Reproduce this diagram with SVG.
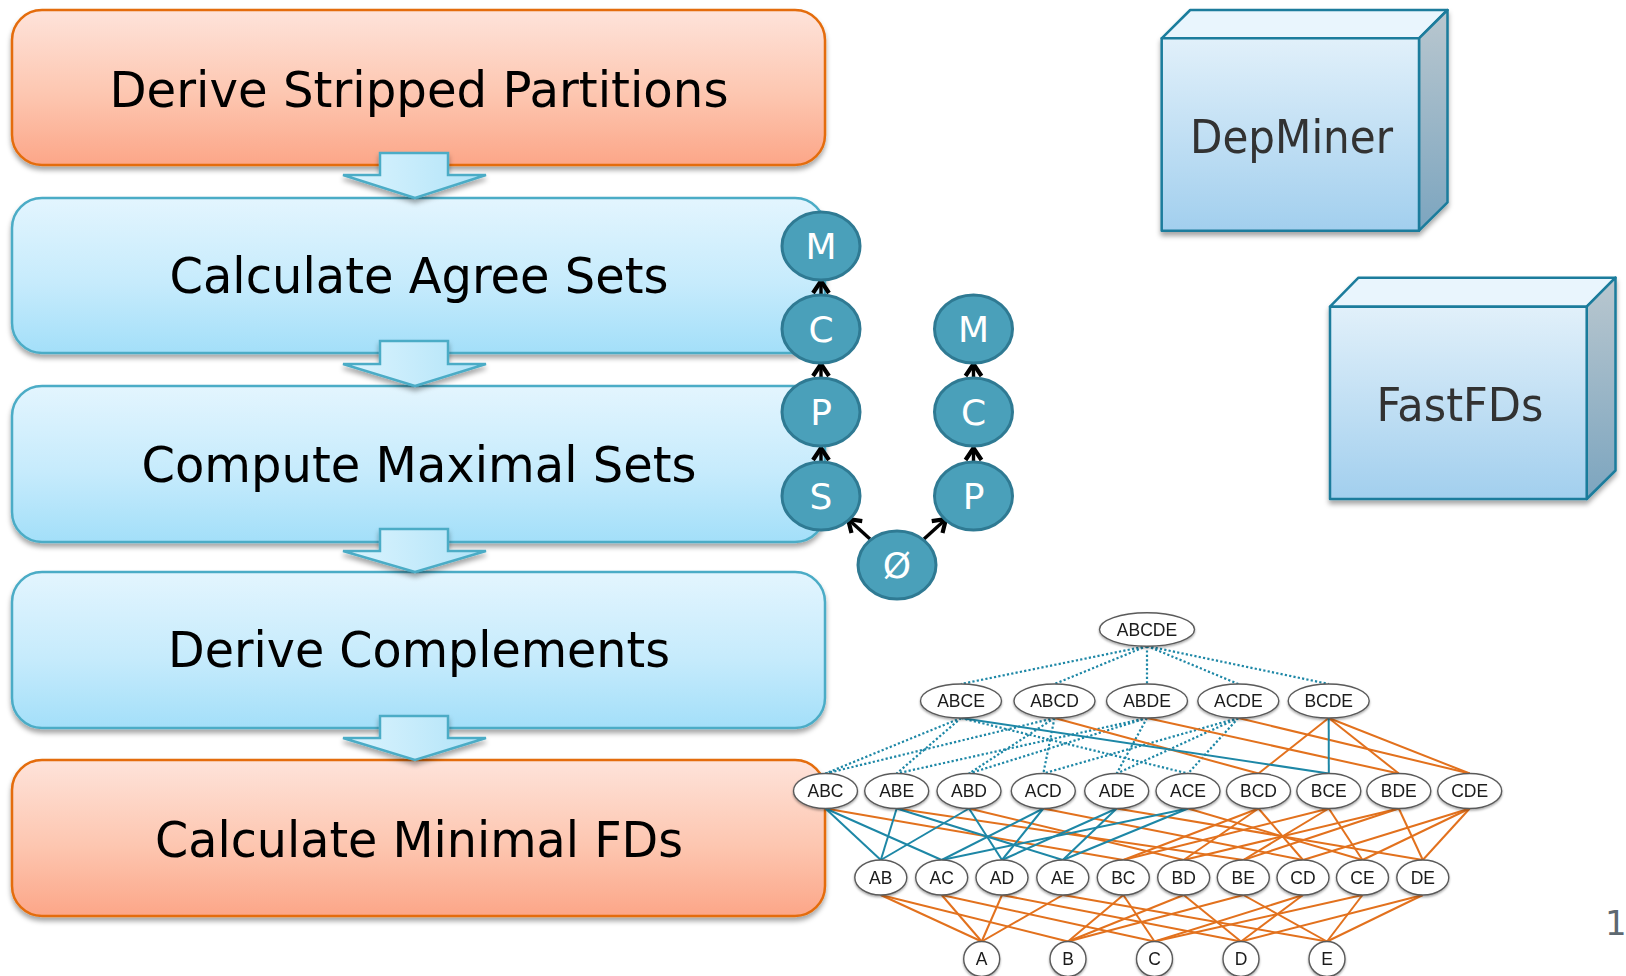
<svg xmlns="http://www.w3.org/2000/svg" width="1626" height="976" viewBox="0 0 1626 976">
  <defs>
    <linearGradient id="gOrange" x1="0" y1="0" x2="0" y2="1">
      <stop offset="0" stop-color="#fee3da"/>
      <stop offset="0.55" stop-color="#fdc6b0"/>
      <stop offset="1" stop-color="#fca688"/>
    </linearGradient>
    <linearGradient id="gBlue" x1="0" y1="0" x2="0" y2="1">
      <stop offset="0" stop-color="#e3f5fe"/>
      <stop offset="0.55" stop-color="#c6ebfc"/>
      <stop offset="1" stop-color="#a3dff9"/>
    </linearGradient>
    <linearGradient id="gArrow" x1="0" y1="0" x2="1" y2="0">
      <stop offset="0" stop-color="#dcf4fe"/>
      <stop offset="1" stop-color="#b0e3f8"/>
    </linearGradient>
    <linearGradient id="gCubeFront" x1="0" y1="0" x2="0" y2="1">
      <stop offset="0" stop-color="#e1f0fa"/>
      <stop offset="1" stop-color="#a2cfee"/>
    </linearGradient>
    <linearGradient id="gCubeSide" x1="0" y1="0" x2="0" y2="1">
      <stop offset="0" stop-color="#b9c7cf"/>
      <stop offset="1" stop-color="#7ca5bf"/>
    </linearGradient>
    <filter id="shadow" x="-5%" y="-10%" width="110%" height="125%">
      <feDropShadow dx="0" dy="4" stdDeviation="2.5" flood-color="#000" flood-opacity="0.35"/>
    </filter>
    <filter id="nshadow" x="-20%" y="-30%" width="140%" height="170%">
      <feDropShadow dx="0" dy="1.5" stdDeviation="1.2" flood-color="#000" flood-opacity="0.35"/>
    </filter>
    <marker id="vee" viewBox="-16 -11 18 22" refX="0" refY="0" markerWidth="18" markerHeight="22" markerUnits="userSpaceOnUse" orient="auto">
      <path d="M-12,-8 L0,0 L-12,8" fill="none" stroke="#000" stroke-width="4.2" stroke-linejoin="miter"/>
    </marker>
  </defs>
  <style>
    .step-o { fill: url(#gOrange); stroke: #e46c0a; stroke-width: 2.5; }
    .step-b { fill: url(#gBlue); stroke: #4bacc6; stroke-width: 2.5; }
    .step-t { font-family: "DejaVu Sans", Verdana, sans-serif; font-size: 49.5px; fill: #000; text-anchor: middle; }
    .flow { fill: url(#gArrow); stroke: #4bacc6; stroke-width: 2.5; stroke-linejoin: miter; }
    .op { fill: #4aa0ba; stroke: #2f7a93; stroke-width: 3; }
    .op-t { font-family: "DejaVu Sans", Verdana, sans-serif; font-size: 36px; fill: #fff; text-anchor: middle; }
    .dep { stroke: #000; stroke-width: 3.4; fill: none; marker-end: url(#vee); }
    .cube { stroke: #1a7c9c; stroke-width: 2.5; stroke-linejoin: round; }
    .cube-t { font-family: "DejaVu Sans", Verdana, sans-serif; font-size: 45.5px; fill: #333; text-anchor: middle; }
    .ln { fill: #fff; stroke: #5a5a5a; stroke-width: 1.4; }
    .ln-t { font-family: "Liberation Sans", Arial, sans-serif; font-size: 17.5px; fill: #1a1a1a; text-anchor: middle; }
    .e-dot { stroke: #1d87a6; stroke-width: 2.2; stroke-dasharray: 2.2 2.2; fill: none; }
    .e-blue { stroke: #1d87a6; stroke-width: 2; fill: none; }
    .e-orange { stroke: #e2711d; stroke-width: 2; fill: none; }
  </style>

  <rect width="1626" height="976" fill="#fff"/>

  <!-- Pipeline steps -->
  <g id="step-stripped-partitions" filter="url(#shadow)">
    <rect class="step-o" x="12" y="10" width="813" height="155" rx="30"/>
    <text class="step-t" x="419" y="107" textLength="619" lengthAdjust="spacingAndGlyphs">Derive Stripped Partitions</text>
  </g>
  <g id="step-agree-sets" filter="url(#shadow)">
    <rect class="step-b" x="12" y="198" width="813" height="155" rx="30"/>
    <text class="step-t" x="419" y="293" textLength="499" lengthAdjust="spacingAndGlyphs">Calculate Agree Sets</text>
  </g>
  <g id="step-maximal-sets" filter="url(#shadow)">
    <rect class="step-b" x="12" y="386" width="813" height="156" rx="30"/>
    <text class="step-t" x="419" y="482" textLength="555" lengthAdjust="spacingAndGlyphs">Compute Maximal Sets</text>
  </g>
  <g id="step-complements" filter="url(#shadow)">
    <rect class="step-b" x="12" y="572" width="813" height="156" rx="30"/>
    <text class="step-t" x="419" y="667" textLength="502" lengthAdjust="spacingAndGlyphs">Derive Complements</text>
  </g>
  <g id="step-minimal-fds" filter="url(#shadow)">
    <rect class="step-o" x="12" y="760" width="813" height="156" rx="30"/>
    <text class="step-t" x="419" y="857" textLength="528" lengthAdjust="spacingAndGlyphs">Calculate Minimal FDs</text>
  </g>

  <!-- Block arrows between steps -->
  <g id="flow-arrows" filter="url(#shadow)">
    <path class="flow" d="M380,153 L448,153 L448,175 L486,175 L415,198 L343,175 L380,175 Z"/>
    <path class="flow" d="M380,341 L448,341 L448,364 L486,364 L415,386 L343,364 L380,364 Z"/>
    <path class="flow" d="M380,529 L448,529 L448,551 L486,551 L415,572 L343,551 L380,551 Z"/>
    <path class="flow" d="M380,716 L448,716 L448,738 L486,738 L415,760 L343,738 L380,738 Z"/>
  </g>

  <!-- Operator chains: connectors -->
  <g id="chain-connectors">
    <line class="dep" x1="821" y1="462" x2="821" y2="448"/>
    <line class="dep" x1="821" y1="378" x2="821" y2="364"/>
    <line class="dep" x1="821" y1="295" x2="821" y2="281"/>
    <line class="dep" x1="973.5" y1="462" x2="973.5" y2="448"/>
    <line class="dep" x1="973.5" y1="378" x2="973.5" y2="364"/>
    <line class="dep" x1="870" y1="539" x2="848" y2="519"/>
    <line class="dep" x1="924" y1="539" x2="946" y2="519"/>
  </g>

  <!-- Operator chains: nodes -->
  <g id="op-left-M"><ellipse class="op" cx="821" cy="246" rx="39" ry="34"/><text class="op-t" x="821" y="259">M</text></g>
  <g id="op-left-C"><ellipse class="op" cx="821" cy="329" rx="39" ry="34"/><text class="op-t" x="821" y="342">C</text></g>
  <g id="op-left-P"><ellipse class="op" cx="821" cy="412" rx="39" ry="34"/><text class="op-t" x="821" y="425">P</text></g>
  <g id="op-left-S"><ellipse class="op" cx="821" cy="496" rx="39" ry="34"/><text class="op-t" x="821" y="509">S</text></g>
  <g id="op-right-M"><ellipse class="op" cx="973.5" cy="329" rx="39" ry="34"/><text class="op-t" x="973.5" y="342">M</text></g>
  <g id="op-right-C"><ellipse class="op" cx="973.5" cy="412" rx="39" ry="34"/><text class="op-t" x="973.5" y="425">C</text></g>
  <g id="op-right-P"><ellipse class="op" cx="973.5" cy="496" rx="39" ry="34"/><text class="op-t" x="973.5" y="509">P</text></g>
  <g id="op-empty"><ellipse class="op" cx="897" cy="565" rx="39" ry="34"/><text class="op-t" x="897" y="578">Ø</text></g>

  <!-- Algorithm cubes -->
  <g id="cube-depminer" filter="url(#shadow)">
    <polygon class="cube" fill="#e9f5fd" points="1161.7,38.3 1190.2,10 1447.5,10 1419,38.3"/>
    <polygon class="cube" fill="url(#gCubeSide)" points="1419,38.3 1447.5,10 1447.5,202.4 1419,230.7"/>
    <rect class="cube" fill="url(#gCubeFront)" x="1161.7" y="38.3" width="257.3" height="192.4"/>
    <text class="cube-t" x="1291.5" y="153.3" textLength="203" lengthAdjust="spacingAndGlyphs">DepMiner</text>
  </g>
  <g id="cube-fastfds" filter="url(#shadow)">
    <polygon class="cube" fill="#e9f5fd" points="1330,306.7 1358.5,277.7 1615.5,277.7 1586.7,306.7"/>
    <polygon class="cube" fill="url(#gCubeSide)" points="1586.7,306.7 1615.5,277.7 1615.5,470.5 1586.7,499"/>
    <rect class="cube" fill="url(#gCubeFront)" x="1330" y="306.7" width="256.7" height="192.3"/>
    <text class="cube-t" x="1460" y="420.7" font-size="44.5" textLength="167" lengthAdjust="spacingAndGlyphs">FastFDs</text>
  </g>

  <!-- Attribute lattice: edges -->
  <g id="lattice-edges">
    <!-- level 5 to level 4 -->
    <g class="e-dot">
      <line x1="1147" y1="646" x2="961" y2="684"/>
      <line x1="1147" y1="646" x2="1054.5" y2="684"/>
      <line x1="1147" y1="646" x2="1147" y2="684"/>
      <line x1="1147" y1="646" x2="1238.3" y2="684"/>
      <line x1="1147" y1="646" x2="1328.7" y2="684"/>
      <!-- level 4 to level 3, sets containing A -->
      <line x1="961" y1="718" x2="825.5" y2="773.5"/>
      <line x1="961" y1="718" x2="896.7" y2="773.5"/>
      <line x1="961" y1="718" x2="1188" y2="773.5"/>
      <line x1="1054.5" y1="718" x2="825.5" y2="773.5"/>
      <line x1="1054.5" y1="718" x2="969" y2="773.5"/>
      <line x1="1054.5" y1="718" x2="1043.3" y2="773.5"/>
      <line x1="1147" y1="718" x2="969" y2="773.5"/>
      <line x1="1147" y1="718" x2="896.7" y2="773.5"/>
      <line x1="1147" y1="718" x2="1116.7" y2="773.5"/>
      <line x1="1238.3" y1="718" x2="1043.3" y2="773.5"/>
      <line x1="1238.3" y1="718" x2="1188" y2="773.5"/>
      <line x1="1238.3" y1="718" x2="1116.7" y2="773.5"/>
    </g>
    <g class="e-orange">
      <line x1="1054.5" y1="718" x2="1258.5" y2="773.5"/>
      <line x1="1147" y1="718" x2="1398.8" y2="773.5"/>
      <line x1="1238.3" y1="718" x2="1469.7" y2="773.5"/>
      <line x1="1328.7" y1="718" x2="1258.5" y2="773.5"/>
      <line x1="1328.7" y1="718" x2="1398.8" y2="773.5"/>
      <line x1="1328.7" y1="718" x2="1469.7" y2="773.5"/>
      <!-- level 3 to level 2 -->
      <line x1="825.5" y1="808.5" x2="1123.3" y2="860"/>
      <line x1="896.7" y1="808.5" x2="1243.3" y2="860"/>
      <line x1="969" y1="808.5" x2="1183.7" y2="860"/>
      <line x1="1043.3" y1="808.5" x2="1303" y2="860"/>
      <line x1="1116.7" y1="808.5" x2="1422.8" y2="860"/>
      <line x1="1188" y1="808.5" x2="1362.5" y2="860"/>
      <line x1="1258.5" y1="808.5" x2="1123.3" y2="860"/>
      <line x1="1258.5" y1="808.5" x2="1183.7" y2="860"/>
      <line x1="1258.5" y1="808.5" x2="1303" y2="860"/>
      <line x1="1328.8" y1="808.5" x2="1123.3" y2="860"/>
      <line x1="1328.8" y1="808.5" x2="1243.3" y2="860"/>
      <line x1="1328.8" y1="808.5" x2="1362.5" y2="860"/>
      <line x1="1398.8" y1="808.5" x2="1183.7" y2="860"/>
      <line x1="1398.8" y1="808.5" x2="1243.3" y2="860"/>
      <line x1="1398.8" y1="808.5" x2="1422.8" y2="860"/>
      <line x1="1469.7" y1="808.5" x2="1303" y2="860"/>
      <line x1="1469.7" y1="808.5" x2="1362.5" y2="860"/>
      <line x1="1469.7" y1="808.5" x2="1422.8" y2="860"/>
      <!-- level 2 to level 1 -->
      <line x1="880.8" y1="895" x2="981.7" y2="941.5"/>
      <line x1="880.8" y1="895" x2="1068" y2="941.5"/>
      <line x1="941.7" y1="895" x2="981.7" y2="941.5"/>
      <line x1="941.7" y1="895" x2="1154.5" y2="941.5"/>
      <line x1="1002" y1="895" x2="981.7" y2="941.5"/>
      <line x1="1002" y1="895" x2="1241" y2="941.5"/>
      <line x1="1062.8" y1="895" x2="981.7" y2="941.5"/>
      <line x1="1062.8" y1="895" x2="1327" y2="941.5"/>
      <line x1="1123.3" y1="895" x2="1068" y2="941.5"/>
      <line x1="1123.3" y1="895" x2="1154.5" y2="941.5"/>
      <line x1="1183.7" y1="895" x2="1068" y2="941.5"/>
      <line x1="1183.7" y1="895" x2="1241" y2="941.5"/>
      <line x1="1243.3" y1="895" x2="1068" y2="941.5"/>
      <line x1="1243.3" y1="895" x2="1327" y2="941.5"/>
      <line x1="1303" y1="895" x2="1154.5" y2="941.5"/>
      <line x1="1303" y1="895" x2="1241" y2="941.5"/>
      <line x1="1362.5" y1="895" x2="1154.5" y2="941.5"/>
      <line x1="1362.5" y1="895" x2="1327" y2="941.5"/>
      <line x1="1422.8" y1="895" x2="1241" y2="941.5"/>
      <line x1="1422.8" y1="895" x2="1327" y2="941.5"/>
    </g>
    <g class="e-blue">
      <line x1="961" y1="718" x2="1328.8" y2="773.5"/>
      <line x1="1328.7" y1="718" x2="1328.8" y2="773.5"/>
      <!-- level 3 to level 2, sets containing A -->
      <line x1="825.5" y1="808.5" x2="880.8" y2="860"/>
      <line x1="825.5" y1="808.5" x2="941.7" y2="860"/>
      <line x1="896.7" y1="808.5" x2="880.8" y2="860"/>
      <line x1="896.7" y1="808.5" x2="1062.8" y2="860"/>
      <line x1="969" y1="808.5" x2="880.8" y2="860"/>
      <line x1="969" y1="808.5" x2="1002" y2="860"/>
      <line x1="1043.3" y1="808.5" x2="941.7" y2="860"/>
      <line x1="1043.3" y1="808.5" x2="1002" y2="860"/>
      <line x1="1116.7" y1="808.5" x2="1002" y2="860"/>
      <line x1="1116.7" y1="808.5" x2="1062.8" y2="860"/>
      <line x1="1188" y1="808.5" x2="941.7" y2="860"/>
      <line x1="1188" y1="808.5" x2="1062.8" y2="860"/>
    </g>
  </g>

  <!-- Attribute lattice: nodes -->
  <g id="n-ABCDE" filter="url(#nshadow)"><ellipse class="ln" cx="1147" cy="629.5" rx="47.5" ry="16.7"/><text class="ln-t" x="1147" y="635.7">ABCDE</text></g>

  <g id="n-ABCE" filter="url(#nshadow)"><ellipse class="ln" cx="961" cy="701" rx="40.5" ry="17"/><text class="ln-t" x="961" y="707.2">ABCE</text></g>
  <g id="n-ABCD" filter="url(#nshadow)"><ellipse class="ln" cx="1054.5" cy="701" rx="40.5" ry="17"/><text class="ln-t" x="1054.5" y="707.2">ABCD</text></g>
  <g id="n-ABDE" filter="url(#nshadow)"><ellipse class="ln" cx="1147" cy="701" rx="40.5" ry="17"/><text class="ln-t" x="1147" y="707.2">ABDE</text></g>
  <g id="n-ACDE" filter="url(#nshadow)"><ellipse class="ln" cx="1238.3" cy="701" rx="40.5" ry="17"/><text class="ln-t" x="1238.3" y="707.2">ACDE</text></g>
  <g id="n-BCDE" filter="url(#nshadow)"><ellipse class="ln" cx="1328.7" cy="701" rx="40.5" ry="17"/><text class="ln-t" x="1328.7" y="707.2">BCDE</text></g>

  <g id="n-ABC" filter="url(#nshadow)"><ellipse class="ln" cx="825.5" cy="791" rx="32" ry="17.5"/><text class="ln-t" x="825.5" y="797.2">ABC</text></g>
  <g id="n-ABE" filter="url(#nshadow)"><ellipse class="ln" cx="896.7" cy="791" rx="32" ry="17.5"/><text class="ln-t" x="896.7" y="797.2">ABE</text></g>
  <g id="n-ABD" filter="url(#nshadow)"><ellipse class="ln" cx="969" cy="791" rx="32" ry="17.5"/><text class="ln-t" x="969" y="797.2">ABD</text></g>
  <g id="n-ACD" filter="url(#nshadow)"><ellipse class="ln" cx="1043.3" cy="791" rx="32" ry="17.5"/><text class="ln-t" x="1043.3" y="797.2">ACD</text></g>
  <g id="n-ADE" filter="url(#nshadow)"><ellipse class="ln" cx="1116.7" cy="791" rx="32" ry="17.5"/><text class="ln-t" x="1116.7" y="797.2">ADE</text></g>
  <g id="n-ACE" filter="url(#nshadow)"><ellipse class="ln" cx="1188" cy="791" rx="32" ry="17.5"/><text class="ln-t" x="1188" y="797.2">ACE</text></g>
  <g id="n-BCD" filter="url(#nshadow)"><ellipse class="ln" cx="1258.5" cy="791" rx="32" ry="17.5"/><text class="ln-t" x="1258.5" y="797.2">BCD</text></g>
  <g id="n-BCE" filter="url(#nshadow)"><ellipse class="ln" cx="1328.8" cy="791" rx="32" ry="17.5"/><text class="ln-t" x="1328.8" y="797.2">BCE</text></g>
  <g id="n-BDE" filter="url(#nshadow)"><ellipse class="ln" cx="1398.8" cy="791" rx="32" ry="17.5"/><text class="ln-t" x="1398.8" y="797.2">BDE</text></g>
  <g id="n-CDE" filter="url(#nshadow)"><ellipse class="ln" cx="1469.7" cy="791" rx="32" ry="17.5"/><text class="ln-t" x="1469.7" y="797.2">CDE</text></g>

  <g id="n-AB" filter="url(#nshadow)"><ellipse class="ln" cx="880.8" cy="877.5" rx="26" ry="17.5"/><text class="ln-t" x="880.8" y="883.7">AB</text></g>
  <g id="n-AC" filter="url(#nshadow)"><ellipse class="ln" cx="941.7" cy="877.5" rx="26" ry="17.5"/><text class="ln-t" x="941.7" y="883.7">AC</text></g>
  <g id="n-AD" filter="url(#nshadow)"><ellipse class="ln" cx="1002" cy="877.5" rx="26" ry="17.5"/><text class="ln-t" x="1002" y="883.7">AD</text></g>
  <g id="n-AE" filter="url(#nshadow)"><ellipse class="ln" cx="1062.8" cy="877.5" rx="26" ry="17.5"/><text class="ln-t" x="1062.8" y="883.7">AE</text></g>
  <g id="n-BC" filter="url(#nshadow)"><ellipse class="ln" cx="1123.3" cy="877.5" rx="26" ry="17.5"/><text class="ln-t" x="1123.3" y="883.7">BC</text></g>
  <g id="n-BD" filter="url(#nshadow)"><ellipse class="ln" cx="1183.7" cy="877.5" rx="26" ry="17.5"/><text class="ln-t" x="1183.7" y="883.7">BD</text></g>
  <g id="n-BE" filter="url(#nshadow)"><ellipse class="ln" cx="1243.3" cy="877.5" rx="26" ry="17.5"/><text class="ln-t" x="1243.3" y="883.7">BE</text></g>
  <g id="n-CD" filter="url(#nshadow)"><ellipse class="ln" cx="1303" cy="877.5" rx="26" ry="17.5"/><text class="ln-t" x="1303" y="883.7">CD</text></g>
  <g id="n-CE" filter="url(#nshadow)"><ellipse class="ln" cx="1362.5" cy="877.5" rx="26" ry="17.5"/><text class="ln-t" x="1362.5" y="883.7">CE</text></g>
  <g id="n-DE" filter="url(#nshadow)"><ellipse class="ln" cx="1422.8" cy="877.5" rx="26" ry="17.5"/><text class="ln-t" x="1422.8" y="883.7">DE</text></g>

  <g id="n-A" filter="url(#nshadow)"><ellipse class="ln" cx="981.7" cy="959" rx="18" ry="17.5"/><text class="ln-t" x="981.7" y="965.2">A</text></g>
  <g id="n-B" filter="url(#nshadow)"><ellipse class="ln" cx="1068" cy="959" rx="18" ry="17.5"/><text class="ln-t" x="1068" y="965.2">B</text></g>
  <g id="n-C" filter="url(#nshadow)"><ellipse class="ln" cx="1154.5" cy="959" rx="18" ry="17.5"/><text class="ln-t" x="1154.5" y="965.2">C</text></g>
  <g id="n-D" filter="url(#nshadow)"><ellipse class="ln" cx="1241" cy="959" rx="18" ry="17.5"/><text class="ln-t" x="1241" y="965.2">D</text></g>
  <g id="n-E" filter="url(#nshadow)"><ellipse class="ln" cx="1327" cy="959" rx="18" ry="17.5"/><text class="ln-t" x="1327" y="965.2">E</text></g>

  <!-- Page number -->
  <text x="1605" y="935" font-family="'DejaVu Sans', Verdana, sans-serif" font-size="34" fill="#5d6870">1</text>
</svg>
